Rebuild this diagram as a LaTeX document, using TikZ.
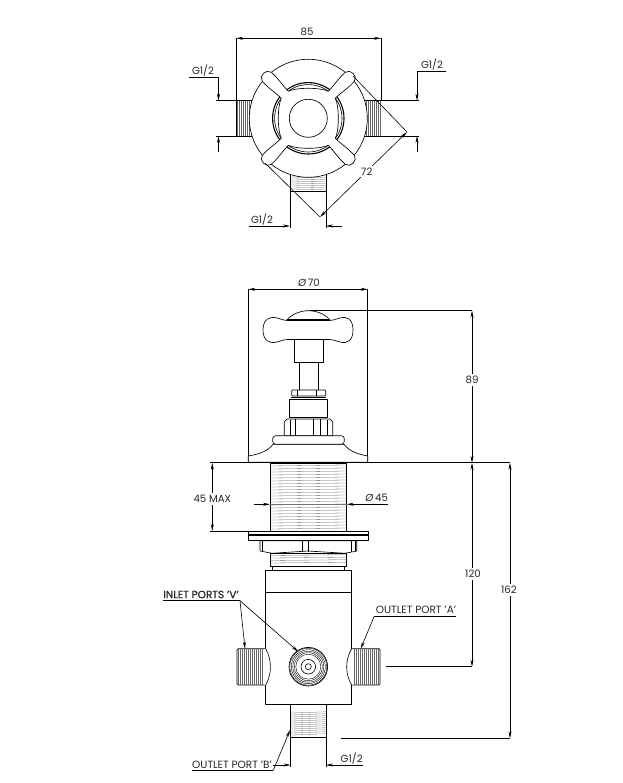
\documentclass[tikz,border=0pt]{standalone}
\usepackage{fontspec}
\setmainfont{Poppins}
\usetikzlibrary{arrows.meta}
\tikzset{
  part/.style={draw=black,line width=0.65pt,fill=white,line join=round},
  edge/.style={draw=black,line width=0.6pt},
  heavy/.style={draw=black,line width=1.1pt},
  fine/.style={draw=black!60,line width=0.3pt},
  dimline/.style={draw=black,line width=0.6pt},
  dimarrow/.style={draw=black,line width=0.6pt,-{Stealth[length=7pt,width=3pt]}},
  dimboth/.style={draw=black,line width=0.6pt,{Stealth[length=7pt,width=3pt]}-{Stealth[length=7pt,width=3pt]}},
  lab/.style={font=\fontsize{10.2}{12}\selectfont,text=black!85,inner sep=0.5pt},
  gaplab/.style={lab,fill=white,inner sep=2pt},
  portlab/.style={lab,font=\fontsize{10.5}{12}\selectfont},
}
\begin{document}
\begin{tikzpicture}[x=1pt,y=-1pt]
\useasboundingbox (0,0) rectangle (622,783);
\fill[white] (0,0) rectangle (622,783);

% ---------- TOP VIEW ----------
\draw[part] (236,100.7) rectangle (256,136);
\draw[part] (362,100.7) rectangle (380.5,136);
\draw[part] (290,170) rectangle (326,191);
\foreach \x in {237,239,...,252}{\draw[fine] (\x,101) -- (\x,135.7);}
\foreach \x in {366,368,...,380}{\draw[fine] (\x,101) -- (\x,135.7);}
\foreach \y in {177,179,...,190}{\draw[fine] (290.5,\y) -- (325.5,\y+0.6);}
\draw[part] (308.3,118.3) circle (59);
\begin{scope}[shift={(308.3,118.3)}]
  \draw[heavy,fill=white] (0,0) circle (35.7);
  \draw[edge] (0,0) circle (33.7);
  \draw[part] (-37,-46) .. controls (-30,-40) and (-26,-33) .. (-20,-27)
     .. controls (-12,-31) and (12,-31) .. (20,-27)
     .. controls (26,-33) and (30,-40) .. (37,-46)
     .. controls (42,-50) and (50,-42) .. (46,-37)
     .. controls (40,-30) and (33,-26) .. (27,-20)
     .. controls (31,-12) and (31,12) .. (27,20)
     .. controls (33,26) and (40,30) .. (46,37)
     .. controls (50,42) and (42,50) .. (37,46)
     .. controls (30,40) and (26,33) .. (20,27)
     .. controls (12,31) and (-12,31) .. (-20,27)
     .. controls (-26,33) and (-30,40) .. (-37,46)
     .. controls (-42,50) and (-50,42) .. (-46,37)
     .. controls (-40,30) and (-33,26) .. (-27,20)
     .. controls (-31,12) and (-31,-12) .. (-27,-20)
     .. controls (-33,-26) and (-40,-30) .. (-46,-37)
     .. controls (-50,-42) and (-42,-50) .. (-37,-46) -- cycle;
  \draw[part] (0,0) circle (19);
\end{scope}
% 85
\draw[dimline] (236,38) -- (236,100.7);
\draw[dimline] (381,38) -- (381,100.7);
\draw[dimboth] (236,38.3) -- (381,38.3);
\node[lab] (t85) at (307,31.5) {85};
% G1/2 left
\node[lab] (tgl) at (203,71) {G1/2};
\draw[dimline] (189,77) -- (218.5,77);
\draw[dimarrow] (218.5,77) -- (218.5,100.7);
\draw[dimline] (216,100.7) -- (236,100.7);
\draw[dimline] (216,136) -- (236,136);
\draw[dimarrow] (218.5,152) -- (218.5,136);
% G1/2 right
\node[lab] (tgr) at (432,65) {G1/2};
\draw[dimline] (446,71) -- (417,71);
\draw[dimarrow] (417,71) -- (417,100.7);
\draw[dimline] (380.5,100.7) -- (419,100.7);
\draw[dimline] (380.5,136) -- (419,136);
\draw[dimarrow] (417,152) -- (417,136);
% G1/2 bottom
\node[lab] (tgb) at (262,220) {G1/2};
\draw[dimline] (290,191) -- (290,228);
\draw[dimline] (326,191) -- (326,228);
\draw[dimline] (249,226) -- (272,226);
\draw[dimarrow] (272,226) -- (290,226);
\draw[dimarrow] (342,226) -- (326,226);
% 72
\draw[dimline] (353,76) -- (407,132);
\draw[dimline] (265,163) -- (320,217);
\draw[dimboth] (407,132) -- (320,217);
\node[gaplab] (t72) at (366.7,171.7) {72};

% ---------- FRONT VIEW : HANDLE ----------
\draw[dimline] (248.3,289.3) -- (248.3,462);
\draw[dimline] (367.7,289.3) -- (367.7,462);
\draw[dimboth] (248.3,289.3) -- (367.7,289.3);
\node[lab] (t70) at (309,283) {{\itshape Ø}\,70};
\draw[part] (299,360) rectangle (318.3,392);
\draw[part] (294.3,339) rectangle (323.3,362.3);
\draw[part] (286.7,320) .. controls (293,313) and (302,310.7) .. (308.3,310.7)
  .. controls (315,310.7) and (324,313) .. (330,320) -- cycle;
\draw[part] (263,330) .. controls (263,319) and (270,316) .. (277,318)
  .. controls (281,319) and (284,320.5) .. (288,320.5) -- (329,320.5)
  .. controls (333,320.5) and (336,319) .. (340,318)
  .. controls (347,316) and (353,319) .. (353,330)
  .. controls (353,341) and (347,344) .. (340,342)
  .. controls (336,341) and (333,339.5) .. (329,339.5) -- (288,339.5)
  .. controls (284,339.5) and (281,341) .. (277,342)
  .. controls (270,344) and (263,341) .. (263,330) -- cycle;
\draw[heavy] (287,319.6) -- (330,319.6);
\draw[part,rounded corners=1pt] (291.7,390) rectangle (325.7,396);
\draw[edge] (297.5,390) -- (297.5,396) (316,390) -- (316,396);
\draw[part] (289.3,399) rectangle (327.7,417.3);
\draw[heavy] (291,397.5) -- (326,397.5);
\draw[part] (284.3,435.7) -- (284.3,422) -- (287,419) -- (330,419) -- (332.7,422) -- (332.7,435.7) -- cycle;
\draw[edge] (290,420) -- (290,435.7) (295.7,419) -- (295.7,435.7) (313,419) -- (313,435.7) (320.5,419) -- (320.5,435.7) (327,420) -- (327,435.7);
\draw[part] (248.3,462.3) -- (248.3,456) .. controls (260,454) and (268,451) .. (273,444.3)
  -- (344,444.3) .. controls (349,451) and (357,454) .. (367.7,456) -- (367.7,462.3) -- cycle;
\draw[part,rounded corners=3pt] (272.7,435.7) rectangle (344.3,444.3);

% ---------- FRONT VIEW : THREADED BODY ----------
\draw[part] (270,463) rectangle (346.7,531);
\foreach \y in {466,469,...,529}{\draw[fine] (270.5,\y) -- (346.2,\y-1);}
\draw[dimline,line width=0.9pt] (210,462.8) -- (510,462.8);
% 45 MAX
\draw[dimline] (210,531) -- (270,531);
\draw[dimboth] (212.3,462.8) -- (212.3,531);
\node[gaplab] (t45m) at (212.3,499) {45 MAX};
% dia 45
\draw[dimarrow] (254,504.3) -- (270,504.3);
\draw[dimarrow] (388,504.3) -- (346.7,504.3);
\draw[dimline,draw=black!55] (270,504.3) -- (346.7,504.3);
\node[lab] (t45) at (376.7,498) {{\itshape Ø}\,45};
% nut and flange
\draw[part] (260,540.7) -- (260,551) -- (272,553.3) -- (308,551) -- (345,553.3) -- (356.7,551) -- (356.7,540.7) -- cycle;
\draw[edge] (262.5,540.7) -- (262.5,551) (302.7,540.7) -- (302.7,552) (308.3,540.7) -- (308.3,552) (351.7,540.7) -- (351.7,552) (355,540.7) -- (355,551);
\draw[part] (248.3,531.7) rectangle (368.3,540.7);
\draw[heavy] (248.3,535) -- (368.3,535);
\draw[part] (270,553) rectangle (346.7,566);
\foreach \y in {555.5,558,...,565}{\draw[fine] (270.5,\y) -- (346.2,\y-0.8);}
\draw[part] (272.7,566) rectangle (344.3,571);

% ---------- VALVE BODY ----------
\draw[part] (265.7,570) rectangle (351.7,704.3);
\draw[heavy] (265.7,592.7) -- (351.7,592.7);
% left port
\draw[part,rounded corners=1pt] (266,648.7) -- (237,648.7) -- (237,685) -- (266,685);
\fill[white] (264,649.2) -- (266.7,648.7) .. controls (272,660) and (272,674) .. (266.7,685) -- (264,684.5) -- cycle;
\draw[edge] (265.7,648.7) .. controls (272,660) and (272,674) .. (265.7,685);
\foreach \x in {238,240,...,263}{\draw[fine] (\x,649.2) -- (\x,684.5);}
% right port
\draw[part,rounded corners=1pt] (351,648.7) -- (380,648.7) -- (380,685) -- (351,685);
\fill[white] (353,649.2) -- (351.7,648.7) .. controls (345,660) and (345,674) .. (351.7,685) -- (353,684.5) -- cycle;
\draw[edge] (351.7,648.7) .. controls (345,660) and (345,674) .. (351.7,685);
\foreach \x in {354,356,...,379}{\draw[fine] (\x,649.2) -- (\x,684.5);}
% inlet circle
\draw[part] (308.3,666.7) circle (19.3);
\foreach \r in {12.5,14,...,19}{\draw[black,line width=0.4pt] (308.3,666.7) circle (\r);}
\draw[edge] (308.3,666.7) circle (7.3);
\draw[edge] (308.3,666.7) circle (3);
% bottom stub
\draw[part] (290.7,704.3) rectangle (326,737.7);
\foreach \y in {713,715,...,735}{\draw[fine] (291.2,\y) -- (325.5,\y-1.2);}
\draw[dimline] (290.7,737.7) -- (290.7,767);
\draw[dimline] (326,737.7) -- (326,767);

% ---------- DIMENSIONS RIGHT ----------
\draw[dimline] (310,310.5) -- (472,310.5);
\draw[dimboth] (472,310.5) -- (472,462.8);
\node[gaplab] (t89) at (472,380) {89};
\draw[dimline] (385.7,666.7) -- (472,666.7);
\draw[dimboth] (472,462.8) -- (472,666.7);
\node[gaplab] (t120) at (473,574) {120};
\draw[dimline] (340.7,738.3) -- (510,738.3);
\draw[dimboth] (510,462.8) -- (510,738.3);
\node[gaplab] (t162) at (509,590) {162};

% ---------- PORT LABELS ----------
\node[portlab] (tin) at (201,594.5) {\addfontfeature{FakeBold=0.6}INLET PORTS 'V'};
\draw[dimline,line width=0.9pt] (162.7,600.7) -- (240,600.7);
\draw[dimarrow] (240,600.7) -- (245,648.7);
\draw[dimarrow] (240,600.7) -- (298.3,651.7);
\node[portlab] (toa) at (416,610) {OUTLET PORT 'A'};
\draw[dimline] (456,616.7) -- (374,616.7);
\draw[dimarrow] (374,616.7) -- (360.7,648.7);
\node[portlab] (tob) at (232,764.5) {OUTLET PORT 'B'};
\draw[dimline] (191.7,770.3) -- (273.3,770.3);
\draw[dimarrow] (273.3,770.3) -- (290,730);
\draw[dimarrow] (273,765) -- (290.7,765);
\draw[dimarrow] (363,765) -- (326,765);
\node[lab] (tgo) at (351.7,759) {G1/2};
\end{tikzpicture}
\end{document}
